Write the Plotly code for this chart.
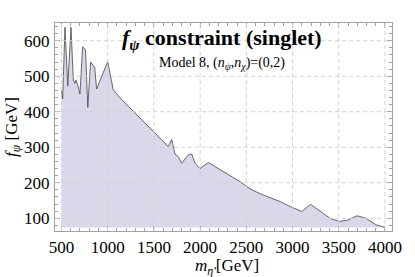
import plotly.graph_objects as go

m_eta = [500, 513, 538, 568, 603, 628, 646, 657, 682, 700, 729, 760, 785, 815, 860, 880,
         1000, 1060, 1130, 1656, 1692, 1728, 1764, 1800, 1872, 1909, 1945, 1999, 2089,
         2432, 2540, 2648, 2865, 2973, 3100, 3195, 3309, 3410, 3505, 3587, 3700, 3795,
         3900, 4000]
f_psi = [461, 436, 638, 472, 638, 489, 480, 489, 470, 450, 583, 574, 412, 540, 525, 464,
         541, 462, 440, 302, 322, 281, 273, 255, 278, 281, 255, 240, 257,
         203, 183, 169, 147, 133, 119, 139, 118, 99, 91, 94, 107, 100,
         82, 74]
base_level = 74

x_ticks = [500, 1000, 1500, 2000, 2500, 3000, 3500, 4000]
y_ticks = [100, 200, 300, 400, 500, 600]
x_range = [430, 4076]
y_range = [64, 650]

serif = "Liberation Serif"
grid_color = "#d2d2d2"

fig = go.Figure()
fig.add_trace(go.Scatter(x=[m_eta[0], m_eta[-1]], y=[base_level, base_level], mode="lines",
                         line=dict(width=0), hoverinfo="skip", showlegend=False))
fig.add_trace(go.Scatter(x=m_eta, y=f_psi, mode="lines", fill="tonexty",
                         fillcolor="rgb(216,216,234)",
                         line=dict(color="#444444", width=0.8), showlegend=False))

# dashed grid drawn above the filled area, as in the reference
for xv in x_ticks:
    fig.add_shape(type="line", xref="x", yref="paper", x0=xv, x1=xv, y0=0, y1=1,
                  line=dict(color=grid_color, width=1, dash="4px,3px"), layer="above")
for yv in y_ticks:
    fig.add_shape(type="line", xref="paper", yref="y", x0=0, x1=1, y0=yv, y1=yv,
                  line=dict(color=grid_color, width=1, dash="4px,3px"), layer="above")

axis_common = dict(showline=True, mirror="allticks", linecolor="#a0a0a0", linewidth=1,
                   ticks="inside", ticklen=5, tickcolor="#a0a0a0",
                   showgrid=False, zeroline=False, automargin=False,
                   tickfont=dict(family=serif, size=17, color="black"),
                   ticklabelstandoff=1)

fig.update_xaxes(range=x_range, tickvals=x_ticks,
                 minor=dict(dtick=100, ticks="inside", ticklen=3, tickcolor="#a0a0a0", showgrid=False),
                 **axis_common)
fig.update_yaxes(range=y_range, tickvals=y_ticks,
                 minor=dict(dtick=20, ticks="inside", ticklen=3, tickcolor="#a0a0a0", showgrid=False),
                 **axis_common)

fig.add_annotation(text="<b><i>f</i><sub><i>ψ</i></sub> constraint (singlet)</b>", xref="paper", yref="paper",
                   x=0.495, y=0.845, xanchor="center", yanchor="bottom", showarrow=False,
                   font=dict(family=serif, size=22, color="black"))
fig.add_annotation(text="Model 8, (<i>n</i><sub><i>ψ</i></sub>,<i>n</i><sub><i>χ</i></sub>)=(0,2)",
                   xref="paper", yref="paper",
                   x=0.497, y=0.757, xanchor="center", yanchor="bottom", showarrow=False,
                   font=dict(family=serif, size=14, color="black"))
fig.add_annotation(text="<i>m</i><sub><i>η'</i></sub>[GeV]", xref="paper", yref="paper",
                   x=0.51, y=-0.11, xanchor="center", yanchor="top", showarrow=False,
                   font=dict(family=serif, size=17, color="black"))
fig.add_annotation(text="<i>f</i><sub><i>ψ</i></sub> [GeV]", xref="paper", yref="paper",
                   x=-0.125, y=0.5, xanchor="center", yanchor="middle", showarrow=False, textangle=-90,
                   font=dict(family=serif, size=17, color="black"))

fig.update_layout(width=415, height=277, margin=dict(l=55, r=23, t=23, b=46),
                  paper_bgcolor="white", plot_bgcolor="white")

fig.write_html("out.html", config={"displayModeBar": False},
               post_script="document.body.style.margin='0';document.body.style.overflow='hidden';")
